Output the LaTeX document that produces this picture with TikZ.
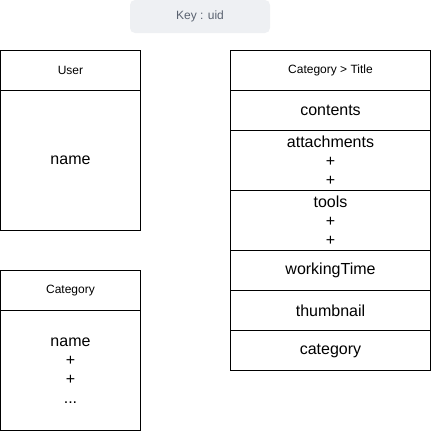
\documentclass[tikz,border=0pt]{standalone}
\usepackage{fontspec}
\setmainfont{Liberation Sans}
\definecolor{keyfill}{HTML}{EEF0F3}
\definecolor{keytext}{HTML}{5A6270}
\begin{document}
\begin{tikzpicture}[x=1pt,y=-1pt,
  cellbase/.style={draw=black, line width=1pt, rectangle, anchor=north west, inner sep=0pt, outer sep=0pt, align=center},
  hdr/.style={cellbase, font=\fontsize{12}{14}\selectfont},
  bodycell/.style={cellbase, font=\fontsize{16}{19}\selectfont},
  leftw/.style={minimum width=140pt},
  rightw/.style={minimum width=200pt},
  keybox/.style={rectangle, anchor=north west, rounded corners=5pt, fill=keyfill, text=keytext,
    minimum width=140pt, minimum height=33pt, inner sep=0pt, outer sep=0pt, font=\fontsize{12}{14}\selectfont}]
\useasboundingbox (0,0) rectangle (431,431);
\node[keybox] (key) at (130,0) {Key : uid};
% User
\node[hdr, leftw, minimum height=40pt] (userh) at (0.5,50.5) {User};
\node[bodycell, leftw, minimum height=140pt] (userb) at (0.5,90.5) {name};
% Category
\node[hdr, leftw, minimum height=40pt] (cath) at (0.5,270.5) {Category};
\node[bodycell, leftw, minimum height=120pt] (catb) at (0.5,310.5) {name\\+\\+\\...};
% Category > Title
\node[hdr, rightw, minimum height=40pt] (th) at (230.5,50.5) {Category > Title};
\node[bodycell, rightw, minimum height=40pt] (contents) at (230.5,90.5) {contents};
\node[bodycell, rightw, minimum height=60pt] (attach) at (230.5,130.5) {attachments\\+\\+};
\node[bodycell, rightw, minimum height=60pt] (tools) at (230.5,190.5) {tools\\+\\+};
\node[bodycell, rightw, minimum height=40pt] (wtime) at (230.5,250.5) {workingTime};
\node[bodycell, rightw, minimum height=40pt] (thumb) at (230.5,290.5) {thumbnail};
\node[bodycell, rightw, minimum height=40pt] (catg) at (230.5,330.5) {category};
\end{tikzpicture}
\end{document}
